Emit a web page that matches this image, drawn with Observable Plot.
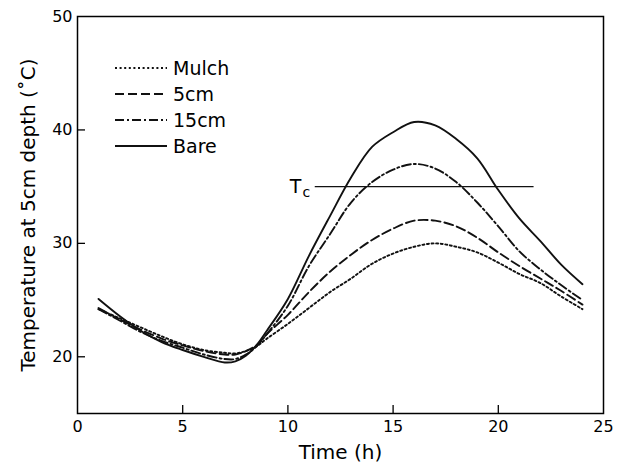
<!DOCTYPE html>
<html><head><meta charset="utf-8">
<script src="https://cdn.jsdelivr.net/npm/d3@7"></script>
<script src="https://cdn.jsdelivr.net/npm/@observablehq/plot@0.6"></script>
<style>body{margin:0;background:#fff;} #chart{position:relative;width:623px;height:471px;}</style>
</head><body><div id="chart"></div>
<script>
const times = [1,2,3,4,5,6,7,7.5,8,8.5,9,10,11,12,13,14,15,16,17,18,19,20,21,22,23,24];
const mulch = [24.2,23.4,22.6,21.8,21.1,20.6,20.35,20.3,20.5,20.9,21.6,22.9,24.3,25.7,26.9,28.2,29.1,29.7,30.0,29.7,29.2,28.3,27.3,26.5,25.3,24.2];
const cm5   = [24.3,23.3,22.4,21.6,21.0,20.5,20.2,20.2,20.5,21.0,22.0,23.7,25.7,27.5,29.0,30.3,31.3,32.0,32.0,31.5,30.5,29.2,28.0,26.9,25.8,24.6];
const cm15  = [24.2,23.2,22.2,21.4,20.8,20.2,19.8,19.8,20.2,20.9,22.0,24.5,28.0,30.8,33.6,35.4,36.5,37.0,36.6,35.4,33.6,31.5,29.3,27.7,26.3,25.0];
const bare  = [25.1,23.6,22.3,21.3,20.6,20.0,19.5,19.6,20.1,21.0,22.3,25.1,28.9,32.4,35.8,38.5,39.8,40.7,40.4,39.2,37.5,34.7,32.2,30.2,28.1,26.4];
const seriesNames = ["Mulch","5cm","15cm","Bare"];
const seriesValues = [mulch, cm5, cm15, bare];
const dashes = ["2,2.6","9,4","9,3,2,3",null];
const xTicks = [5,10,15,20];
const xLabels = [0,5,10,15,20,25];
const yTicks = [20,30,40];
const yLabels = [20,30,40,50];
const tc = 35;
const tcRange = [11.3,21.7];

const font = "'DejaVu Sans', 'Liberation Sans', Arial, sans-serif";
const rowsFor = (i) => times.map((t,j)=>({series:seriesNames[i], time:t, temp:seriesValues[i][j]}));

const lineMarks = seriesNames.map((s,i)=> Plot.line(rowsFor(i), {
  x:"time", y:"temp", stroke:"#111", strokeWidth:1.9, curve:"catmull-rom",
  strokeDasharray: dashes[i] || undefined
}));

const chart = Plot.plot({
  width:623, height:471,
  marginLeft:77, marginRight:20, marginTop:16, marginBottom:58,
  style:{fontFamily:font, fontSize:"16px", background:"#fff", color:"#000", overflow:"visible"},
  x:{domain:[0,25]},
  y:{domain:[15,50]},
  marks:[
    Plot.axisX(xLabels, {tickSize:0, tickPadding:7, fontSize:16, label:null}),
    Plot.axisX(xTicks, {tickSize:-8, strokeWidth:1.3, tickFormat:()=>"", label:null}),
    Plot.axisY(yLabels, {tickSize:0, tickPadding:5, fontSize:16, label:null}),
    Plot.axisY(yTicks, {tickSize:-8, strokeWidth:1.3, tickFormat:()=>"", label:null}),
    Plot.frame({stroke:"#000", strokeWidth:1.5}),
    ...lineMarks,
    Plot.ruleY([tc], {x1:tcRange[0], x2:tcRange[1], stroke:"#111", strokeWidth:1.3}),
    Plot.text([tc], {x:tcRange[0], y:d=>d, text:()=>"T", textAnchor:"end", dx:-14, fontSize:19}),
    Plot.text([tc], {x:tcRange[0], y:d=>d, text:()=>"c", textAnchor:"end", dx:-5, dy:6, fontSize:14}),
    Plot.text(["Time (h)"], {frameAnchor:"bottom", lineAnchor:"middle", dy:39, fontSize:20}),
    Plot.text(["Temperature at 5cm depth (˚C)"], {frameAnchor:"left", dx:-49, rotate:-90, textAnchor:"middle", fontSize:20})
  ]
});
document.getElementById("chart").appendChild(chart);

// legend (inside the plot, top-left)
const svg = d3.select(chart);
const lg = svg.append("g").attr("font-family", font).attr("font-size", 19).attr("text-anchor","start");
seriesNames.forEach((s,i)=>{
  const y = 68 + i*26;
  lg.append("line").attr("x1",115).attr("x2",167).attr("y1",y).attr("y2",y)
    .attr("stroke","#111").attr("stroke-width",1.9)
    .attr("stroke-dasharray", dashes[i] || null);
  lg.append("text").attr("x",173).attr("y",y).attr("dy","0.36em")
    .attr("text-anchor","start").style("font-size","19px").text(s);
});
</script></body></html>
